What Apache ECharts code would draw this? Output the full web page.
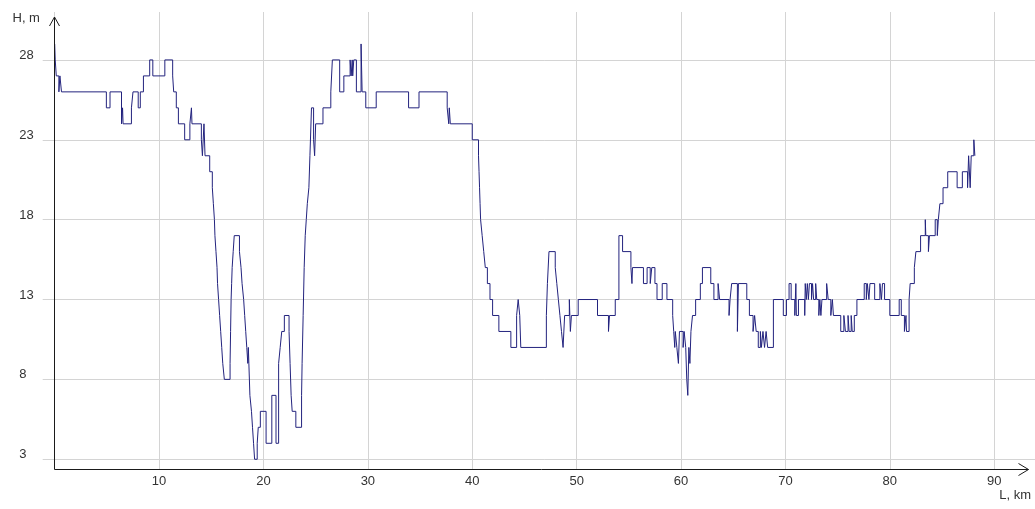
<!DOCTYPE html>
<html><head><meta charset="utf-8">
<script src="https://cdn.jsdelivr.net/npm/echarts@6/dist/echarts.min.js"></script>
<style>html,body{margin:0;padding:0;background:#fff}#c{width:1035px;height:509px}</style>
</head><body><div id="c"></div>
<script>
// Distance along the route (km) at which each height level starts
const distanceKm = [
0,0.05,0.15,0.4,0.5,0.65,4.95,5.3,6.4,6.5,6.55,7.35,7.5,8.0,8.2,8.5,9.1,9.4,10.55,11.3,
11.4,11.65,11.85,12.45,12.95,13.1,13.15,14.05,14.15,14.3,14.4,14.85,15.1,15.2,15.3,15.35,15.45,15.55,15.6,15.7,
15.8,15.9,16.0,16.1,16.25,16.8,16.85,16.9,16.95,17.0,17.1,17.2,17.7,17.85,17.95,18.1,18.2,18.3,18.4,18.5,
18.55,18.6,18.7,18.85,18.95,19.05,19.15,19.4,19.5,19.7,20.25,20.8,21.2,21.45,21.6,21.75,22.0,22.45,22.55,22.65,
22.75,23.1,23.65,23.7,23.8,23.9,24.0,24.1,24.2,24.35,24.45,24.6,24.8,24.9,25.0,25.7,26.45,26.6,27.3,27.7,
28.3,28.4,28.5,28.55,28.65,28.9,29.35,29.45,29.8,30.8,33.9,34.9,37.6,37.75,37.8,37.9,40.0,40.6,40.65,40.7,
40.75,40.8,40.95,41.1,41.25,41.45,41.7,41.95,42.55,43.7,44.25,44.4,44.55,44.65,47.1,47.2,47.35,47.95,48.1,48.25,
48.4,48.55,48.7,48.85,49.3,49.4,49.5,50.15,52.0,53.05,53.15,53.7,54.05,54.4,55.2,55.3,55.35,56.4,56.75,57.05,
57.2,57.5,57.7,58.2,58.65,59.2,59.3,59.4,59.45,59.6,59.75,59.85,60.2,60.3,60.45,60.55,60.65,60.75,60.85,60.95,
61.1,61.4,61.85,62.05,62.85,63.15,63.55,63.7,64.6,64.7,64.85,65.4,65.5,66.3,66.55,66.9,67.05,67.2,67.4,67.6,
67.7,67.85,68.0,68.15,68.3,68.85,69.8,70.1,70.35,70.55,70.9,71.0,71.05,71.25,71.85,71.9,72.0,72.1,72.2,72.3,
72.5,72.6,72.7,72.9,73.0,73.2,73.3,73.4,73.5,73.95,74.1,74.35,74.5,74.6,75.3,75.6,75.75,76.0,76.1,76.3,
76.4,76.6,76.85,77.55,77.75,77.85,78.0,78.1,78.55,79.05,79.2,79.3,79.5,80.0,80.9,81.1,81.4,81.55,81.6,81.85,
81.95,82.35,82.5,82.95,83.4,83.45,83.7,83.8,84.35,84.55,84.65,84.8,85.1,85.55,86.45,86.95,87.45,87.55,87.7,87.8,
88.05,88.15,88.2
];
// Height (m) held from that distance on
const heightM = [
29,28,27,26,27,26,25,26,24,25,24,25,26,25,26,27,28,27,28,27,
26,25,24,23,24,25,24,23,22,24,22,21,20,19,18,17,16,15,14,13,
12,11,10,9,8,9,11,13,14,15,16,17,16,15,14,13,12,11,10,9,
10,9,7,6,5,4,3,4,5,6,4,7,4,9,10,11,12,11,9,7,
6,5,7,9,12,15,17,18,19,20,22,25,23,22,24,25,26,28,26,27,
28,27,28,27,28,26,29,26,25,26,25,26,25,24,25,24,23,22,21,20,
19,18,17,16,15,14,13,12,11,10,12,13,12,10,12,14,16,15,14,13,
12,11,10,12,13,11,12,13,12,11,12,13,17,16,15,14,15,14,15,14,
15,14,13,14,13,12,11,10,11,10,9,11,10,11,10,8,7,10,9,11,
12,13,14,15,14,13,14,13,12,13,14,11,14,13,12,11,12,11,10,11,
10,11,10,11,10,13,12,13,14,13,12,14,12,13,12,14,13,14,13,14,
13,14,13,14,13,12,13,12,13,14,13,12,13,12,11,12,11,12,11,12,
11,12,13,14,13,14,13,14,13,14,13,14,13,12,13,12,11,12,11,13,
14,15,16,17,18,17,16,17,18,17,18,19,20,21,20,21,20,22,20,22,
23,22,22
];
const yTickValues = [3, 8, 13, 18, 23, 28];
const xTickStep = 10;
const yAxisName = 'H, m';
const xAxisName = 'L, km';

const Y_MIN = 2.39, Y_MAX = 31.0, X_MIN = 0, X_MAX = 93.91;
const GRID_COLOR = '#d4d4d4';
const AXIS_COLOR = '#1a1a1a';
const FONT = '"Liberation Sans", Arial, sans-serif';

const chart = echarts.init(document.getElementById('c'), null, {renderer: 'canvas'});
chart.setOption({
  animation: false,
  backgroundColor: '#ffffff',
  grid: {left: 54.7, right: -2, top: 12, bottom: 40, containLabel: false},
  xAxis: {
    type: 'value', min: X_MIN, max: X_MAX, interval: xTickStep, z: 0,
    axisLine: {show: false}, axisTick: {show: false},
    splitLine: {show: true, lineStyle: {color: GRID_COLOR, width: 1}},
    axisLabel: {showMinLabel: false, showMaxLabel: false, color: '#333', fontSize: 13, fontFamily: FONT, margin: 6}
  },
  yAxis: {
    type: 'value', min: Y_MIN, max: Y_MAX, z: 0,
    axisLine: {show: false},
    axisTick: {show: true, customValues: yTickValues, length: 12, inside: false, lineStyle: {color: GRID_COLOR}},
    splitLine: {show: false},
    axisLabel: {customValues: yTickValues, align: 'left', margin: 35.5, verticalAlign: 'bottom',
      lineHeight: 9, color: '#333', fontSize: 13, fontFamily: FONT}
  },
  series: [
    {
      type: 'line', data: [], z: 0, zlevel: 0, silent: true,
      markLine: {
        silent: true, symbol: 'none', animation: false, z: 0,
        label: {show: false},
        lineStyle: {color: GRID_COLOR, width: 1, type: 'solid'},
        emphasis: {disabled: true},
        data: yTickValues.map(v => ({yAxis: v}))
      }
    },
    {
      type: 'line', z: 10, step: 'end', showSymbol: false, symbol: 'none',
      lineStyle: {color: '#23237e', width: 1},
      data: distanceKm.map((d, i) => [d, heightM[i]])
    }
  ]
});

const o = chart.convertToPixel({xAxisIndex: 0, yAxisIndex: 0}, [0, Y_MIN]);
const ax = Math.round(o[0]) - 0.5, ay = Math.round(o[1]) + 0.5;
chart.setOption({
  graphic: [
    {type: 'polyline', z: 50, shape: {points: [[ax, ay], [ax, 17]]}, style: {stroke: AXIS_COLOR, lineWidth: 1, fill: null}},
    {type: 'polyline', z: 50, shape: {points: [[ax - 5, 26], [ax, 17], [ax + 5, 26]]}, style: {stroke: AXIS_COLOR, lineWidth: 1, fill: null}},
    {type: 'polyline', z: 50, shape: {points: [[ax, ay], [1028.5, ay]]}, style: {stroke: AXIS_COLOR, lineWidth: 1, fill: null}},
    {type: 'polyline', z: 50, shape: {points: [[1018.5, ay - 6], [1028.5, ay], [1018.5, ay + 6]]}, style: {stroke: AXIS_COLOR, lineWidth: 1, fill: null}},
    {type: 'text', z: 50, x: 12.5, y: 18, style: {text: yAxisName, fill: '#333', font: '13px ' + FONT, textVerticalAlign: 'middle', textAlign: 'left'}},
    {type: 'text', z: 50, x: 1031, y: 495, style: {text: xAxisName, fill: '#333', font: '13px ' + FONT, textVerticalAlign: 'middle', textAlign: 'right'}}
  ]
});
</script>
</body></html>
